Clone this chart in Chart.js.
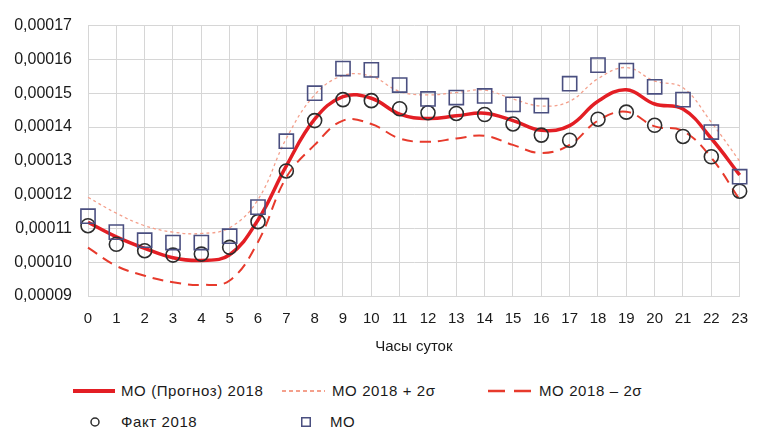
<!DOCTYPE html>
<html>
<head>
<meta charset="utf-8">
<script src="https://cdn.jsdelivr.net/npm/chart.js@4.4.1/dist/chart.umd.min.js"></script>
<style>
  body { margin: 0; background: #fff; }
  #wrap { position: relative; width: 762px; height: 434px; font-family: 'Liberation Sans', Arial, sans-serif; color: #1a1a1a; }
  #chart { position: absolute; left: 0; top: 0; }
  .lg { position: absolute; font-size: 15px; line-height: 16px; letter-spacing: 0.6px; white-space: nowrap; }
  .mk { position: absolute; overflow: visible; }
</style>
</head>
<body>
<div id="wrap">
  <canvas id="chart" width="762" height="360"></canvas>
  <div id="legend"></div>
</div>
<script>
const hours = ['0', '1', '2', '3', '4', '5', '6', '7', '8', '9', '10', '11', '12', '13', '14', '15', '16', '17', '18', '19', '20', '21', '22', '23'];

const forecast2018 = [0.0001118, 0.0001075, 0.0001041, 0.0001013, 0.0001005, 0.0001022, 0.0001125, 0.0001285, 0.0001423, 0.000149, 0.0001485, 0.0001438, 0.0001425, 0.0001433, 0.0001441, 0.0001419, 0.000139, 0.0001404, 0.0001476, 0.000151, 0.0001468, 0.0001453, 0.0001366, 0.0001258];
const upper2s = [0.0001192, 0.0001145, 0.0001108, 0.0001089, 0.0001085, 0.0001102, 0.0001185, 0.0001366, 0.0001495, 0.0001552, 0.000155, 0.0001505, 0.0001495, 0.0001502, 0.0001509, 0.0001483, 0.0001462, 0.0001476, 0.0001543, 0.0001576, 0.0001536, 0.0001516, 0.0001414, 0.0001299];
const lower2s = [0.0001043, 0.0000989, 0.000096, 0.0000941, 0.0000933, 0.0000946, 0.000106, 0.0001251, 0.0001347, 0.0001419, 0.0001409, 0.0001366, 0.0001356, 0.0001366, 0.0001374, 0.0001347, 0.0001323, 0.0001347, 0.0001419, 0.0001445, 0.0001402, 0.0001388, 0.0001309, 0.0001185];
const fact2018 = [0.0001108, 0.0001053, 0.0001034, 0.0001021, 0.0001024, 0.0001044, 0.000112, 0.000127, 0.0001419, 0.0001481, 0.0001478, 0.0001454, 0.0001442, 0.000144, 0.0001437, 0.0001409, 0.0001376, 0.0001361, 0.0001423, 0.0001444, 0.0001405, 0.0001372, 0.0001312, 0.000121];
const moValues = [0.0001136, 0.0001089, 0.0001065, 0.0001058, 0.0001058, 0.0001077, 0.0001163, 0.0001358, 0.00015, 0.0001573, 0.0001569, 0.0001524, 0.0001483, 0.0001487, 0.0001492, 0.0001467, 0.0001463, 0.0001528, 0.0001583, 0.0001567, 0.0001519, 0.0001481, 0.0001385, 0.0001253];

const yTicks = [0.00009, 0.0001, 0.00011, 0.00012, 0.00013, 0.00014, 0.00015, 0.00016, 0.00017];

const RED = '#e31e24';
const LIGHT = '#f4a08c';
const DASH_RED = '#e73a2c';
const GRID = '#d6d6d6';
const TEXT = '#1a1a1a';
const FONT = "'Liberation Sans', Arial, sans-serif";

const fmt = v => v.toFixed(5).replace('.', ',');

const chart = new Chart(document.getElementById('chart'), {
    type: 'line',
    data: {
        labels: hours,
        datasets: [
            {
                label: 'МО (Прогноз) 2018',
                data: forecast2018,
                borderColor: RED,
                borderWidth: 3.5,
                tension: 0.4,
                pointRadius: 0,
                order: 3,
            },
            {
                label: 'МО 2018 + 2σ',
                data: upper2s,
                borderColor: LIGHT,
                borderWidth: 1.3,
                borderDash: [3, 3],
                tension: 0.4,
                pointRadius: 0,
                order: 4,
            },
            {
                label: 'МО 2018 – 2σ',
                data: lower2s,
                borderColor: DASH_RED,
                borderWidth: 2,
                borderDash: [11, 7],
                tension: 0.4,
                pointRadius: 0,
                order: 2,
            },
            {
                label: 'Факт 2018',
                data: fact2018,
                showLine: false,
                pointStyle: 'circle',
                pointRadius: 7,
                pointBorderWidth: 1.6,
                pointBorderColor: '#2d2d2d',
                pointBackgroundColor: 'rgba(255,255,255,0)',
                order: 1,
            },
            {
                label: 'МО',
                data: moValues,
                showLine: false,
                pointStyle: 'rect',
                pointRadius: 10,
                pointBorderWidth: 1.6,
                pointBorderColor: '#4a4f80',
                pointBackgroundColor: 'rgba(255,255,255,0)',
                order: 0,
            },
        ]
    },
    options: {
        responsive: false,
        animation: false,
        devicePixelRatio: 1,
        layout: { padding: { top: 17, right: 22, left: 0, bottom: 0 } },
        plugins: { legend: { display: false }, tooltip: { enabled: false } },
        scales: {
            x: {
                offset: false,
                grid: { color: GRID, lineWidth: 1, drawTicks: false },
                border: { color: GRID },
                ticks: { color: TEXT, font: { family: FONT, size: 15 }, padding: 14, maxRotation: 0, autoSkip: false },
                title: { display: true, text: 'Часы суток', color: TEXT, font: { family: FONT, size: 15 }, padding: { top: 0, bottom: 4 } },
                afterFit: s => { s.height = 64; },
            },
            y: {
                min: 0.00009,
                max: 0.00017,
                grid: { color: GRID, lineWidth: 1, drawTicks: false },
                border: { color: GRID },
                afterBuildTicks: s => { s.ticks = yTicks.map(v => ({ value: v })); },
                ticks: { color: TEXT, font: { family: FONT, size: 16 }, padding: 16, callback: v => fmt(v) },
                afterFit: s => { s.width = 88; },
            }
        }
    }
});

// legend drawn as html to match the two-row layout of the original
const ds = chart.data.datasets;
const legendSpots = [
    { i: 0, x: 73, y: 391, w: 42, tx: 121, sw: 4, dash: '' },
    { i: 1, x: 282, y: 391, w: 43, tx: 332, sw: 2, dash: '4,3' },
    { i: 2, x: 488, y: 391, w: 44, tx: 539, sw: 2.5, dash: '17,9' },
    { i: 3, x: 95, y: 422, tx: 121 },
    { i: 4, x: 306, y: 422, tx: 330 },
];
const legend = document.getElementById('legend');
legendSpots.forEach(s => {
    const d = ds[s.i];
    let mark;
    if (s.w) {
        const dash = s.dash ? `stroke-dasharray="${s.dash}"` : '';
        mark = `<svg class="mk" style="left:${s.x}px;top:${s.y - 5}px" width="${s.w}" height="10"><line x1="0" y1="5" x2="${s.w}" y2="5" stroke="${d.borderColor}" stroke-width="${s.sw}" ${dash}/></svg>`;
    } else if (d.pointStyle === 'circle') {
        mark = `<svg class="mk" style="left:${s.x - 5}px;top:${s.y - 5}px" width="10" height="10"><circle cx="5" cy="5" r="4" fill="none" stroke="${d.pointBorderColor}" stroke-width="1.5"/></svg>`;
    } else {
        mark = `<svg class="mk" style="left:${s.x - 5}px;top:${s.y - 5}px" width="10" height="10"><rect x="0.75" y="0.75" width="8.5" height="8.5" fill="none" stroke="${d.pointBorderColor}" stroke-width="1.5"/></svg>`;
    }
    legend.insertAdjacentHTML('beforeend', mark + `<div class="lg" style="left:${s.tx}px;top:${s.y - 8}px">${d.label}</div>`);
});
</script>
</body>
</html>
